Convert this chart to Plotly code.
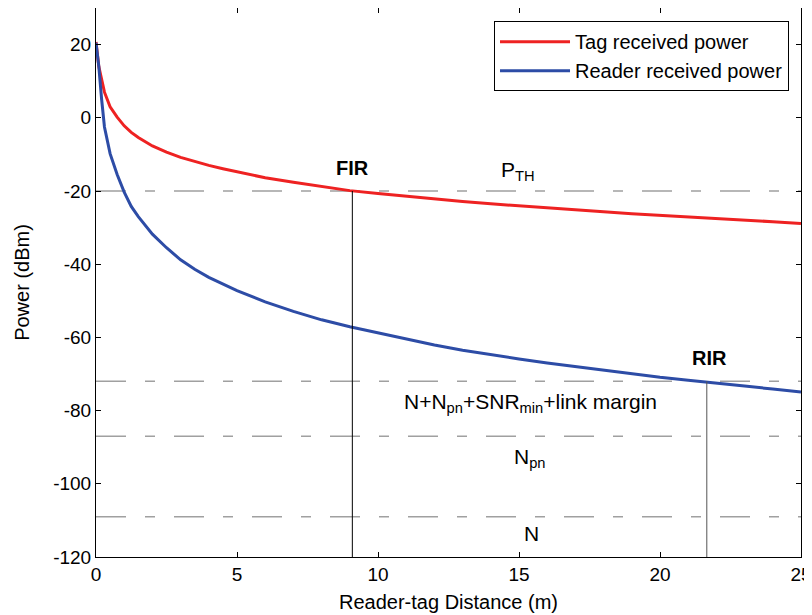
import plotly.graph_objects as go

# Data
distance_tag = [0, 0.1, 0.3, 0.5, 0.75, 1, 1.25, 1.5, 2, 2.5, 3, 3.5, 4, 4.5, 5, 6, 7, 8, 9,
                10, 11, 12, 13, 14, 15, 16, 17, 18, 19, 20, 21, 22, 23, 24, 25]
tag_power = [20.7, 14, 7, 3, 0.2, -2.2, -4, -5.4, -7.7, -9.4, -10.8, -12, -13, -13.9, -14.8,
             -16.4, -17.6, -18.8, -19.9, -20.7, -21.5, -22.3, -22.9, -23.5, -24.1, -24.7,
             -25.2, -25.7, -26.2, -26.6, -27.1, -27.5, -27.9, -28.4, -28.9]

distance_reader = [0, 0.1, 0.2, 0.3, 0.5, 0.75, 1, 1.25, 1.5, 2, 2.5, 3, 3.5, 4, 5, 6, 7,
                   8, 9, 10, 11, 12, 13, 14, 15, 16, 17, 18, 19, 20, 21, 22, 23, 24, 25]
reader_power = [20.5, 14, 5, -2.5, -9.8, -15.5, -20.3, -24.2, -27, -31.8, -35.5, -38.8,
                -41.4, -43.6, -47.2, -50.3, -52.9, -55.2, -57.1, -58.8, -60.5, -62.1, -63.5,
                -64.8, -65.9, -67.0, -68.0, -69.0, -70.0, -70.9, -71.7, -72.4, -73.3, -74.1,
                -74.9]

threshold_levels = [-20, -72, -87, -109]   # P_TH, N+Npn+SNRmin+margin, Npn, N
fir_distance = 9.09
rir_distance = 21.66

x_ticks = [0, 5, 10, 15, 20, 25]
x_ticktext = ["0", "5", "10", "15", "20", "25"]
y_ticks = [-120, -100, -80, -60, -40, -20, 0, 20]
y_ticktext = ["-120", "-100", "-80", "-60", "-40", "-20", "0", "20"]

FONT = "Liberation Sans"

fig = go.Figure()

# Dashed threshold lines
for lvl in threshold_levels:
    fig.add_shape(type="line", xref="x", yref="y", x0=0, x1=25, y0=lvl, y1=lvl,
                  line=dict(color="#A0A0A0", width=1.5, dash="30px,19px,10px,19px"),
                  layer="below")

fig.add_trace(go.Scatter(x=distance_tag, y=tag_power, mode="lines",
                         name="Tag received power",
                         line=dict(color="#EE2222", width=3)))
fig.add_trace(go.Scatter(x=distance_reader, y=reader_power, mode="lines",
                         name="Reader received power",
                         line=dict(color="#2D4CA6", width=3)))

# Vertical markers
fig.add_shape(type="line", xref="x", yref="y", x0=fir_distance, x1=fir_distance,
              y0=-120, y1=threshold_levels[0], line=dict(color="black", width=1))
fig.add_shape(type="line", xref="x", yref="y", x0=rir_distance, x1=rir_distance,
              y0=-120, y1=threshold_levels[1], line=dict(color="#555555", width=1))

annotations = [
    dict(x=fir_distance, y=-13.8, text="<b>FIR</b>", size=20),
    dict(x=14.96, y=-14.5, text="P<sub>TH</sub>", size=21),
    dict(x=21.77, y=-65.5, text="<b>RIR</b>", size=20),
    dict(x=15.4, y=-78.0, text="N+N<sub>pn</sub>+SNR<sub>min</sub>+link margin", size=21),
    dict(x=15.4, y=-93.0, text="N<sub>pn</sub>", size=21),
    dict(x=15.45, y=-113.7, text="N", size=21),
]
for a in annotations:
    fig.add_annotation(x=a["x"], y=a["y"], text=a["text"], showarrow=False,
                       xref="x", yref="y",
                       font=dict(family=FONT, size=a["size"], color="black"))

axis_common = dict(showline=True, linecolor="black", linewidth=1, mirror="ticks",
                   ticks="inside", ticklen=5, tickcolor="black", showgrid=False,
                   zeroline=False, automargin=False,
                   tickfont=dict(family=FONT, size=19, color="black"))

fig.update_xaxes(range=[0, 25], tickvals=x_ticks, ticktext=x_ticktext,
                 title=dict(text="Reader-tag Distance (m)", standoff=11,
                            font=dict(family=FONT, size=20, color="black")),
                 **axis_common)
fig.update_yaxes(range=[-120, 30], tickvals=y_ticks, ticktext=y_ticktext,
                 title=dict(text="Power (dBm)", standoff=18,
                            font=dict(family=FONT, size=20, color="black")),
                 **axis_common)

# The page adds an 8px body margin, so the figure is sized to sit inside the window.
fig.update_layout(
    width=804, height=607,
    margin=dict(l=88, r=11, t=0, b=58),
    plot_bgcolor="white", paper_bgcolor="white",
    font=dict(family=FONT, size=19, color="black"),
    legend=dict(x=0.983, y=0.976, xanchor="right", yanchor="top",
                bordercolor="black", borderwidth=1, bgcolor="white",
                font=dict(family=FONT, size=20, color="black"),
                tracegroupgap=0, itemwidth=70),
    showlegend=True,
)

fig.write_html("out.html")
